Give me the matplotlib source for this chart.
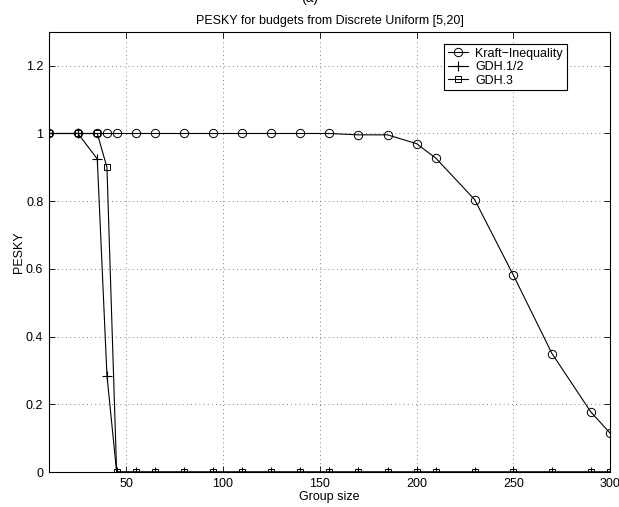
import matplotlib
matplotlib.use('Agg')
import matplotlib.pyplot as plt

plt.rcParams['font.family'] = ['Liberation Sans', 'DejaVu Sans']
plt.rcParams['font.size'] = 9

# group sizes and PESKY values
group_size = [10, 25, 35, 40, 45, 55, 65, 80, 95, 110, 125, 140, 155, 170,
              185, 200, 210, 230, 250, 270, 290, 300]
kraft = [1, 1, 1, 1, 1, 1, 1, 1, 1, 1, 1, 1, 1, 0.996,
         0.996, 0.97, 0.927, 0.805, 0.582, 0.35, 0.178, 0.115]
gdh_half = [1, 1, 0.925, 0.285, 0, 0, 0, 0, 0, 0, 0, 0, 0, 0,
            0, 0, 0, 0, 0, 0, 0, 0]
gdh_3 = [1, 1, 1, 0.9, 0, 0, 0, 0, 0, 0, 0, 0, 0, 0,
         0, 0, 0, 0, 0, 0, 0, 0]

fig = plt.figure(figsize=(6.19, 5.07), dpi=100)
ax = fig.add_axes([0.079, 0.069, 0.9065, 0.868])

ax.plot(group_size, kraft, color='black', lw=0.8, marker='o', ms=6,
        mfc='none', mew=0.7, label='Kraft\u2212Inequality')
ax.plot(group_size, gdh_half, color='black', lw=0.8, marker='+', ms=7,
        mew=0.8, label='GDH.1/2')
ax.plot(group_size, gdh_3, color='black', lw=0.8, marker='s', ms=5,
        mfc='none', mew=0.7, label='GDH.3')

ax.set_xlim(10, 300)
ax.set_ylim(0, 1.3)
ax.set_xticks([50, 100, 150, 200, 250, 300])
ax.set_yticks([0, 0.2, 0.4, 0.6, 0.8, 1.0, 1.2])
ax.set_yticklabels(['0', '0.2', '0.4', '0.6', '0.8', '1', '1.2'])
ax.tick_params(direction='in', length=4, width=0.6, top=True, right=True,
               labelsize=9, pad=4)
ax.grid(True, color='#555555', linestyle=(0, (1, 4)), linewidth=0.6)
for s in ax.spines.values():
    s.set_linewidth(0.8)

ax.set_xlabel('Group size', labelpad=1)
ax.set_ylabel('PESKY', labelpad=1)
ax.set_title('PESKY for budgets from Discrete Uniform [5,20]', fontsize=9, pad=6)
fig.text(0.5, 1.004, '(a)', ha='center', va='center', fontsize=10)

leg = ax.legend(loc='upper right', bbox_to_anchor=(0.923, 0.973), borderaxespad=0,
                fancybox=False, edgecolor='black', framealpha=1, fontsize=9,
                handlelength=1.6, borderpad=0.3, labelspacing=0.12,
                handletextpad=0.6)
leg.get_frame().set_linewidth(0.8)

fig.savefig('out.png', dpi=100)
